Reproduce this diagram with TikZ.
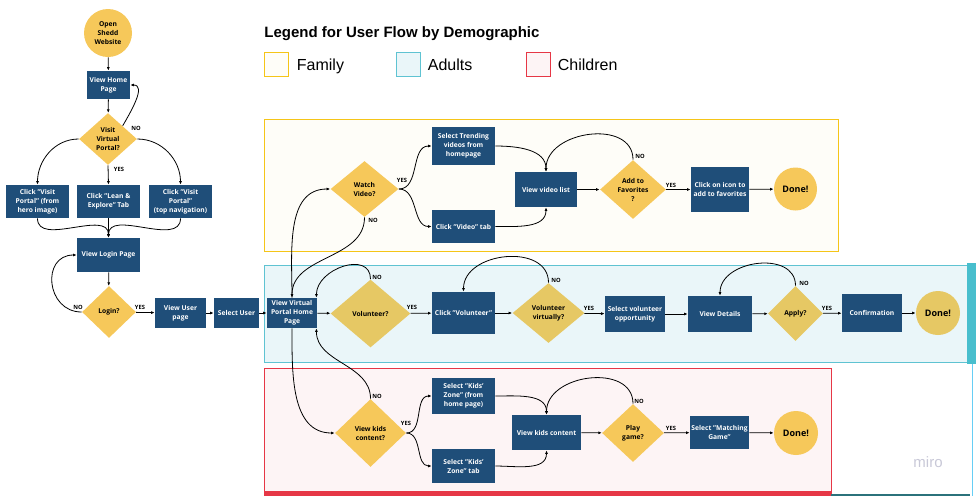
\documentclass[tikz,border=0pt]{standalone}
\usepackage{fontspec}
\setmainfont{Open Sans}
\newfontfamily\keyfont{Liberation Sans}
\usetikzlibrary{shapes.geometric,arrows.meta,positioning}
\definecolor{navy}{RGB}{31,78,121}
\definecolor{gold}{RGB}{246,200,90}
\definecolor{goldmute}{RGB}{230,200,100}
\definecolor{famline}{RGB}{245,197,24}
\definecolor{famfill}{RGB}{254,253,248}
\definecolor{adline}{RGB}{95,195,210}
\definecolor{adfill}{RGB}{234,246,249}
\definecolor{adedge}{RGB}{72,190,205}
\definecolor{kidline}{RGB}{230,55,70}
\definecolor{kidfill}{RGB}{253,244,245}
\definecolor{mirogray}{RGB}{200,200,215}
\newcommand{\flowfont}{\fontsize{6.7}{9}\selectfont\bfseries}
\tikzset{
  screen/.style={fill=navy,text=white,font=\flowfont,align=center,inner sep=1pt},
  ask/.style={diamond,fill=gold,text=black,font=\flowfont,align=center,inner sep=0pt},
  endpt/.style={circle,fill=gold,text=black,font=\flowfont,align=center,inner sep=0pt},
  donept/.style={circle,fill=gold,text=black,font=\fontsize{9}{10}\selectfont\bfseries,inner sep=0pt,minimum size=44},
  tag/.style={font=\fontsize{5.8}{6}\selectfont\bfseries,inner sep=0pt},
  band/.style={line width=1pt},
  swatch/.style={draw,minimum size=24,inner sep=0pt,line width=1pt},
  keytext/.style={font=\keyfont\fontsize{16}{18}\selectfont,inner sep=0pt,anchor=base west},
}
\begin{document}
\begin{tikzpicture}[x=1pt,y=-1pt,>={Latex[length=3.5pt,width=3pt]},line width=0.8pt]
\useasboundingbox (0,0) rectangle (976,496);

\node[anchor=base west,inner sep=0pt,font=\keyfont\bfseries\fontsize{15}{18}\selectfont] (legend) at (264,37) {Legend for User Flow by Demographic};
\node[swatch,draw=famline,fill=famfill] (famkey) at (276,64) {};
\node[keytext] (famtext) at ([xshift=8pt,yshift=-6pt]famkey.east) {Family};
\node[swatch,draw=adline,fill=adfill] (adkey) at (408,64) {};
\node[keytext] (adtext) at ([xshift=7pt,yshift=-6pt]adkey.east) {Adults};
\node[swatch,draw=kidline,fill=kidfill] (kidkey) at (538,64) {};
\node[keytext] (kidtext) at ([xshift=7pt,yshift=-6pt]kidkey.east) {Children};

\draw[band,draw=famline,fill=famfill] (264,119) rectangle (838,251);
\draw[band,draw=adline,fill=adfill] (264,265) rectangle (968,362);
\fill[adedge] (967,263) rectangle (976,364);
\draw[cyan!60,line width=0.6pt] (972,364) -- (972,496);
\draw[band,draw=kidline,fill=kidfill] (264,368) rectangle (831,493);
\fill[kidline] (264,491) rectangle (831,496);
\fill[adedge!60!black] (831,493.5) rectangle (970,496);
\node[text=mirogray,font=\keyfont\fontsize{15}{15}\selectfont] (miro) at (928,462) {miro};

\node[endpt,minimum size=48] (open) at (108,33) {Open\\Shedd\\Website};
\node[screen,minimum width=43,minimum height=28] (home) at (108.5,85) {View Home\\Page};
\node[ask,minimum width=58,minimum height=52] (visit) at (108,139) {Visit\\Virtual\\Portal?};
\node[screen,minimum width=63,minimum height=33] (hero) at (37.5,201.5) {Click "Visit\\Portal" (from\\hero image)};
\node[screen,minimum width=63,minimum height=33] (lean) at (108.5,201.5) {Click "Lean \&\\Explore" Tab};
\node[screen,minimum width=63,minimum height=33] (topnav) at (180.5,201.5) {Click "Visit\\Portal"\\(top navigation)};
\node[screen,minimum width=63,minimum height=34] (loginpage) at (108.5,255) {View Login Page};
\node[ask,minimum width=54,minimum height=52] (loginq) at (109,312) {Login?};
\node[screen,minimum width=51,minimum height=30] (viewuser) at (180.5,313) {View User\\page};
\node[screen,minimum width=45,minimum height=30] (seluser) at (236.5,313) {Select User};
\node[screen,minimum width=50,minimum height=30] (vvp) at (292,313) {View Virtual\\Portal Home\\Page};

\node[ask,minimum width=68,minimum height=56] (watch) at (364.5,189) {Watch\\Video?};
\node[screen,minimum width=63,minimum height=38] (trending) at (463.5,146) {Select Trending\\videos from\\homepage};
\node[screen,minimum width=63,minimum height=33] (clickvid) at (463.5,226.5) {Click "Video" tab};
\node[screen,minimum width=62,minimum height=35] (vidlist) at (546,189.5) {View video list};
\node[ask,minimum width=66,minimum height=59] (fav) at (633,189.5) {Add to\\Favorites\\?};
\node[screen,minimum width=58,minimum height=45] (favicon) at (720,189.5) {Click on icon to\\add to favorites};
\node[donept,minimum size=43] (donefam) at (795.5,189) {Done!};

\node[ask,fill=goldmute,minimum width=80,minimum height=68] (volq) at (370.5,313.5) {Volunteer?};
\node[screen,minimum width=63,minimum height=42] (clickvol) at (463.5,313) {Click "Volunteer"};
\node[ask,fill=goldmute,minimum width=72,minimum height=60] (volvirt) at (548.5,313) {Volunteer\\virtually?};
\node[screen,minimum width=60,minimum height=36] (selopp) at (635,314) {Select volunteer\\opportunity};
\node[screen,minimum width=64,minimum height=36] (details) at (720,314) {View Details};
\node[ask,fill=goldmute,minimum width=55,minimum height=55] (apply) at (795.5,313.5) {Apply?};
\node[screen,minimum width=60,minimum height=38] (confirm) at (872,313) {Confirmation};
\node[donept,fill=goldmute] (donead) at (938,313) {Done!};

\node[ask,minimum width=71,minimum height=68] (kidsq) at (370.5,433) {View kids\\content?};
\node[screen,minimum width=63,minimum height=36] (kidzone) at (463.5,396) {Select "Kids'\\Zone" (from\\home page)};
\node[screen,minimum width=63,minimum height=34] (kidtab) at (463.5,466) {Select "Kids'\\Zone" tab};
\node[screen,minimum width=69,minimum height=35] (kidcontent) at (546.5,432.5) {View kids content};
\node[ask,minimum width=62,minimum height=58] (play) at (633,433) {Play\\game?};
\node[screen,minimum width=59,minimum height=33] (matching) at (719.5,432.5) {Select "Matching\\Game"};
\node[donept] (donekid) at (796,433) {Done!};

\node[tag] (visitno) at (136,128) {NO};
\node[tag] (visityes) at (119,169) {YES};
\node[tag] (loginno) at (78,307) {NO};
\node[tag] (loginyes) at (140,307) {YES};
\node[tag] (watchyes) at (402,180) {YES};
\node[tag] (watchno) at (373,220) {NO};
\node[tag] (favno) at (640,156) {NO};
\node[tag] (favyes) at (671,185) {YES};
\node[tag] (volno) at (377,277) {NO};
\node[tag] (volyes) at (412,307) {YES};
\node[tag] (virtno) at (556,280) {NO};
\node[tag] (virtyes) at (589,308) {YES};
\node[tag] (applyno) at (804,283) {NO};
\node[tag] (applyyes) at (827,308) {YES};
\node[tag] (kidsno) at (377,396) {NO};
\node[tag] (kidsyes) at (406,423) {YES};
\node[tag] (playno) at (639,401) {NO};
\node[tag] (playyes) at (671,428) {YES};

\draw[->] (open) -- (home);
\draw[->] (home) -- (visit);
\draw[->] (visit.north east) to[out=60,in=0] (home.east);
\draw[->] (visit.west) to[out=180,in=90] (hero.north);
\draw[->] (visit.south) -- (lean.north);
\draw[->] (visit.east) to[out=0,in=90] (topnav.north);
\draw[->] (hero.south) to[out=-90,in=90] (loginpage.north);
\draw[->] (lean.south) -- (loginpage.north);
\draw[->] (topnav.south) to[out=-90,in=90] (loginpage.north);
\draw[->] (loginpage) -- (loginq);
\draw[->] (loginq.west) to[out=180,in=180,looseness=1.6] (loginpage.west);
\draw[->] (loginq) -- (viewuser);
\draw[->] (viewuser) -- (seluser);
\draw[->] (seluser) -- (vvp);

\draw[->] (vvp.north) to[out=90,in=180] (watch.west);
\draw[->] (watch.south) to[out=-90,in=90] (vvp.north);
\draw[->] (watch.east) to[out=0,in=180] (trending.west);
\draw[->] (watch.east) to[out=0,in=180] (clickvid.west);
\draw[->] (trending.east) to[out=0,in=90] (vidlist.north);
\draw[->] (clickvid.east) to[out=0,in=-90] (vidlist.south);
\draw[->] (vidlist) -- (fav);
\draw[->] (fav.north) to[out=90,in=90,looseness=1.2] (vidlist.north);
\draw[->] (fav) -- (favicon);
\draw[->] (favicon) -- (donefam);

\draw[->] (vvp) -- (volq);
\draw[->] (volq.north) to[out=90,in=90,looseness=1.3] ([xshift=-1pt]vvp.north east);
\draw[->] (volq) -- (clickvol);
\draw[->] (clickvol) -- (volvirt);
\draw[->] (volvirt.north) to[out=90,in=90,looseness=1.2] (clickvol.north);
\draw[->] (volvirt) -- (selopp);
\draw[->] (selopp) -- (details);
\draw[->] (details) -- (apply);
\draw[->] (apply.north) to[out=90,in=90,looseness=1.2] (details.north);
\draw[->] (apply) -- (confirm);
\draw[->] (confirm) -- (donead);

\draw[->] (vvp.south) to[out=-90,in=180] (kidsq.west);
\draw[->] (kidsq.north) to[out=90,in=-90] ([xshift=-1pt]vvp.south east);
\draw[->] (kidsq.east) to[out=0,in=180] (kidzone.west);
\draw[->] (kidsq.east) to[out=0,in=180] (kidtab.west);
\draw[->] (kidzone.east) to[out=0,in=90] (kidcontent.north);
\draw[->] (kidtab.east) to[out=0,in=-90] (kidcontent.south);
\draw[->] (kidcontent) -- (play);
\draw[->] (play.north) to[out=90,in=90,looseness=1.2] (kidcontent.north);
\draw[->] (play) -- (matching);
\draw[->] (matching) -- (donekid);
\end{tikzpicture}
\end{document}
